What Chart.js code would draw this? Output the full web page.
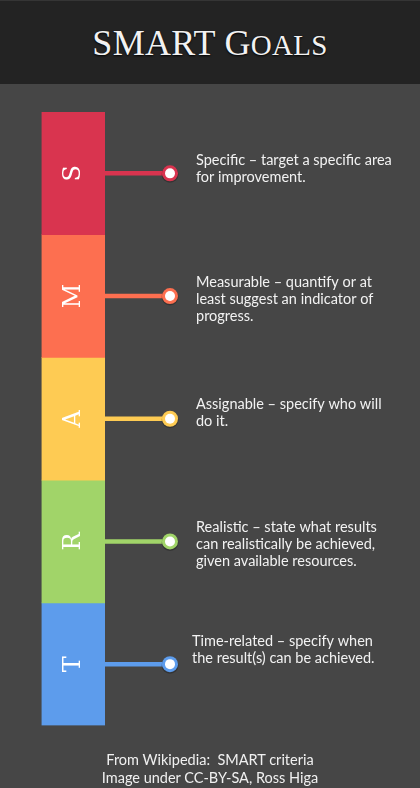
<!DOCTYPE html>
<html>
<head>
<meta charset="utf-8">
<script src="https://cdn.jsdelivr.net/npm/chart.js@4.4.1/dist/chart.umd.min.js"></script>
<style>
  html, body { margin: 0; padding: 0; }
  body { width: 420px; height: 788px; background: #464646; position: relative; overflow: hidden; }
  #head { position: absolute; left: 0; top: 0; width: 420px; height: 84px; background: #232323; border-top: 1px solid #353535; box-sizing: border-box; }
  #head h1 { margin: 0; text-align: center; line-height: 84px; font-family: "Liberation Serif", serif; font-weight: normal; font-size: 36px; color: #f2f2f2; letter-spacing: 0.3px; text-shadow: 0 1px 2px #000; }
  #head h1 span { text-transform: uppercase; font-size: 29px; }
  #foot { position: absolute; left: 0; top: 751px; width: 420px; text-align: center; font-family: Lato, sans-serif; font-size: 14.5px; line-height: 17.5px; color: #f0f0f0; }
  #wrap { position: absolute; left: 0; top: 0; width: 420px; height: 788px; }
</style>
</head>
<body>
<div id="head"><h1>SMART G<span>oals</span></h1></div>
<div id="wrap"><canvas id="smart"></canvas></div>
<div id="foot">From Wikipedia:&nbsp; SMART criteria<br>Image under CC-BY-SA, Ross Higa</div>
<script>
// letras del acrónimo y su descripción
var letras = ["S", "M", "A", "R", "T"];
var valores = [1, 1, 1, 1, 1];
var colores = ["#D9344F", "#FD6F50", "#FECB53", "#A1D469", "#5D9CEC"];
var descripciones = [
  ["Specific – target a specific area", "for improvement."],
  ["Measurable – quantify or at", "least suggest an indicator of", "progress."],
  ["Assignable – specify who will", "do it."],
  ["Realistic – state what results", "can realistically be achieved,", "given available resources."],
  ["Time-related – specify when", "the result(s) can be achieved."]
];

// ajustes de dibujo de los conectores y textos
var puntoX = 170;
var textoX = [196, 196, 196, 196, 192];
var textoDy = [-13, -14, -14, -14, -23];
var interlinea = 17;

var conectores = {
  id: 'conectores',
  afterDatasetsDraw: function(chart) {
    var ctx = chart.ctx;
    ctx.save();
    chart.data.datasets.forEach(function(ds, i) {
      var bar = chart.getDatasetMeta(i).data[0];
      var cy = (bar.y + bar.base) / 2;
      var right = bar.x + bar.width / 2;
      // letra girada
      ctx.save();
      ctx.translate(bar.x, cy);
      ctx.rotate(-Math.PI / 2);
      ctx.fillStyle = '#ffffff';
      ctx.font = '24px "DejaVu Serif", serif';
      ctx.textAlign = 'center';
      ctx.textBaseline = 'middle';
      ctx.fillText(letras[i], 0, 1);
      ctx.restore();
      // linea
      ctx.strokeStyle = colores[i];
      ctx.lineWidth = 4.5;
      ctx.beginPath();
      ctx.moveTo(right, cy);
      ctx.lineTo(puntoX, cy);
      ctx.stroke();
      // punto
      ctx.fillStyle = 'rgba(0,0,0,0.25)';
      ctx.beginPath(); ctx.arc(puntoX, cy + 1, 8.5, 0, Math.PI * 2); ctx.fill();
      ctx.fillStyle = colores[i];
      ctx.beginPath(); ctx.arc(puntoX, cy, 8, 0, Math.PI * 2); ctx.fill();
      ctx.fillStyle = '#ffffff';
      ctx.beginPath(); ctx.arc(puntoX, cy, 5, 0, Math.PI * 2); ctx.fill();
      // texto
      ctx.fillStyle = '#f2f2f2';
      ctx.font = '14.5px Lato, sans-serif';
      ctx.textAlign = 'left';
      ctx.textBaseline = 'middle';
      descripciones[i].forEach(function(linea, k) {
        ctx.fillText(linea, textoX[i], cy + textoDy[i] + k * interlinea);
      });
    });
    ctx.restore();
  }
};

new Chart(document.getElementById('smart'), {
  type: 'bar',
  data: {
    labels: ['SMART'],
    datasets: letras.map(function(l, i) {
      return {
        label: l,
        data: [valores[i]],
        backgroundColor: colores[i],
        borderWidth: 0,
        barPercentage: 1,
        categoryPercentage: 1
      };
    })
  },
  options: {
    responsive: true,
    maintainAspectRatio: false,
    animation: false,
    layout: { padding: { left: 41.5, right: 315, top: 112, bottom: 62.5 } },
    plugins: { legend: { display: false }, tooltip: { enabled: false }, title: { display: false } },
    scales: {
      x: { stacked: true, display: false },
      y: { stacked: true, display: false, reverse: true, min: 0, max: 5 }
    }
  },
  plugins: [conectores]
});
</script>
</body>
</html>
